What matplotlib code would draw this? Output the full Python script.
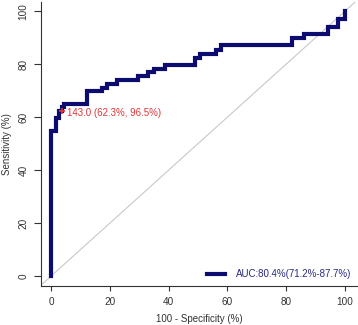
import matplotlib
matplotlib.use("Agg")
import matplotlib.pyplot as plt

plt.rcParams['font.family'] = ['Liberation Sans', 'DejaVu Sans']

# ROC corners: 100 - specificity (%) vs sensitivity (%)
fpr = [0, 0, 1.7, 2.8, 3.5, 4.5, 12.3, 17.2, 19.1, 22.5, 29.7, 33.1, 35.0,
       38.8, 49.0, 50.7, 56.1, 57.7, 82.1, 86.0, 94.3, 97.7, 100]
sens = [0, 54.7, 59.6, 62.3, 63.8, 65.2, 69.9, 71.2, 72.4, 74.0, 75.5, 77.1,
        78.4, 79.6, 82.5, 84.0, 85.3, 87.2, 89.9, 91.3, 94.1, 97.0, 100]

thr_x = 3.5
thr_y = 62.3
thr_label = "143.0 (62.3%, 96.5%)"
auc_label = "AUC:80.4%(71.2%-87.7%)"
ticks = [0, 20, 40, 60, 80, 100]

navy = '#0c0c70'
grey = '#333333'

fig = plt.figure(figsize=(3.58, 3.25), dpi=100)
ax = fig.add_axes([0.1145, 0.12, 0.885, 0.874])

ax.axline((0, 0), (100, 100), color='#c8c8c8', lw=0.8, zorder=1)
ax.plot(fpr, sens, drawstyle='steps-post', color=navy, lw=3.0,
        solid_joinstyle='miter', label=auc_label, zorder=2)
ax.plot(thr_x, thr_y, marker='+', color='#e03535', ms=5, mew=1.2, zorder=3)
ax.text(thr_x + 2.0, thr_y + 1.2, thr_label, color='#e03535', fontsize=7,
        ha='left', va='top')

ax.set_xlim(-3.5, 104.5)
ax.set_ylim(-3.8, 103.6)
ax.set_xticks(ticks)
ax.set_yticks(ticks)
for s in ['top', 'right']:
    ax.spines[s].set_visible(False)
for s in ['left', 'bottom']:
    ax.spines[s].set_color(grey)
    ax.spines[s].set_linewidth(0.8)
ax.tick_params(colors=grey, labelsize=7.2, width=0.8)
ax.tick_params(axis='x', length=3.6, pad=4.5)
ax.tick_params(axis='y', length=5, pad=4)
plt.setp(ax.get_yticklabels(), rotation=90, va='center')

ax.set_xlabel("100 - Specificity (%)", fontsize=7, color=grey, labelpad=4.5)
ax.set_ylabel("Sensitivity (%)", fontsize=7, color=grey, labelpad=5)

leg = ax.legend(loc='lower right', frameon=False, fontsize=7,
                handlelength=1.8, handletextpad=1.1, borderaxespad=0.3)
for t in leg.get_texts():
    t.set_color('#2a2a80')

fig.savefig("out.png", dpi=100)
